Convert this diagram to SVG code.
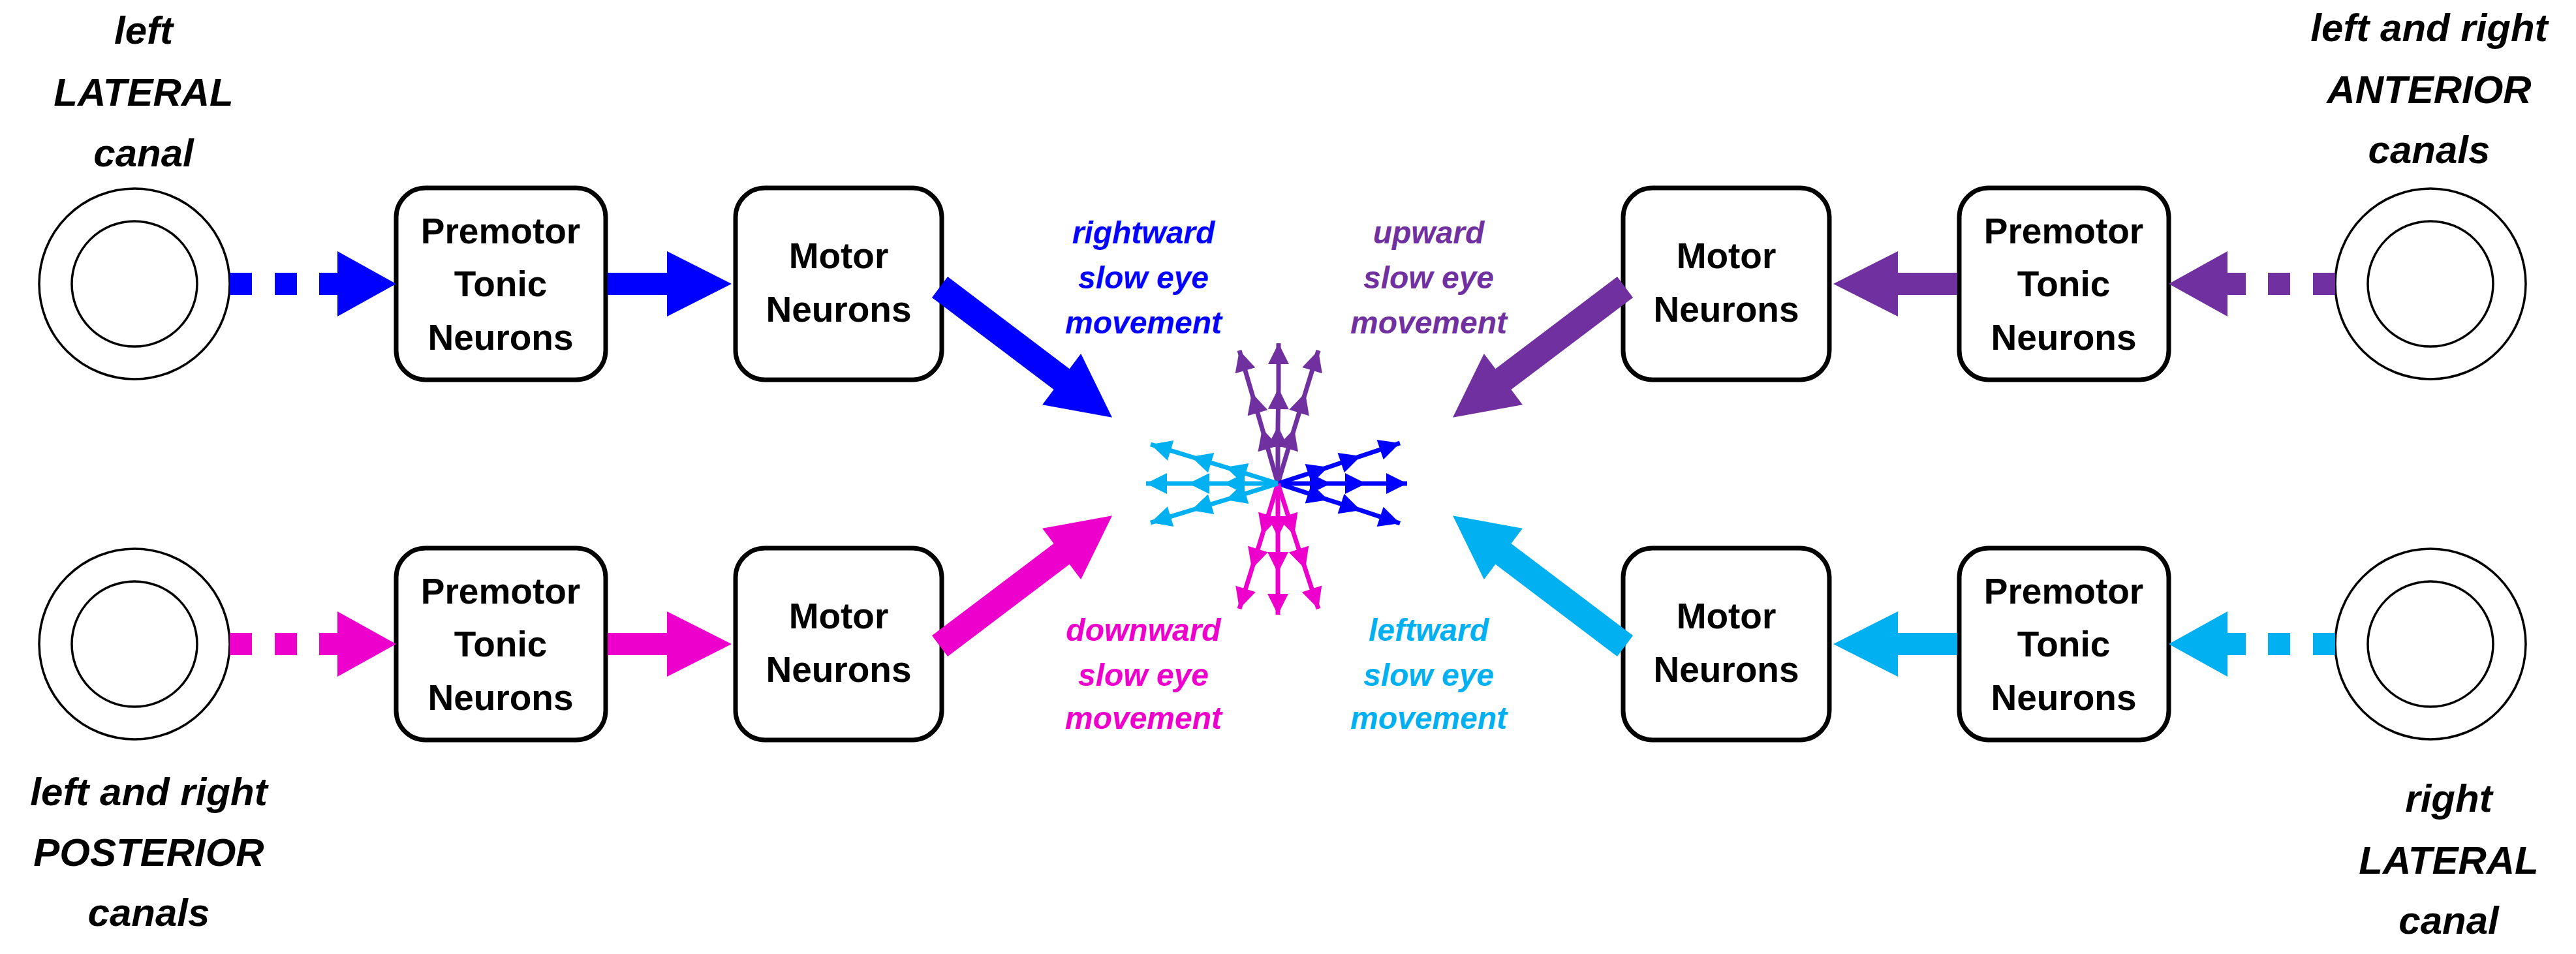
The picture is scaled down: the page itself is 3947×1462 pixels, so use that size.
<svg xmlns="http://www.w3.org/2000/svg" width="3947" height="1462" viewBox="0 0 3947 1462">
<style>
.canal{fill:none;stroke:#000;stroke-width:3.5}
.box{fill:#fff;stroke:#000;stroke-width:7}
.bt{font-family:"Liberation Sans",Arial,sans-serif;font-weight:bold;font-size:55px;text-anchor:middle;fill:#000}
.lab{font-family:"Liberation Sans",Arial,sans-serif;font-weight:bold;font-style:italic;font-size:60px;text-anchor:middle;fill:#000}
.mv{font-family:"Liberation Sans",Arial,sans-serif;font-weight:bold;font-style:italic;font-size:48px;text-anchor:middle}
.ray{fill:none;stroke-width:7}
</style>
<defs>
<marker id="hb" viewBox="0 0 10 10" refX="10" refY="5" markerUnits="userSpaceOnUse" markerWidth="38" markerHeight="32" orient="auto"><path d="M0,0 L10,5 L0,10 z" fill="#0000ff"/></marker>
<marker id="hp" viewBox="0 0 10 10" refX="10" refY="5" markerUnits="userSpaceOnUse" markerWidth="38" markerHeight="32" orient="auto"><path d="M0,0 L10,5 L0,10 z" fill="#7030a0"/></marker>
<marker id="hm" viewBox="0 0 10 10" refX="10" refY="5" markerUnits="userSpaceOnUse" markerWidth="38" markerHeight="32" orient="auto"><path d="M0,0 L10,5 L0,10 z" fill="#ee00cc"/></marker>
<marker id="hc" viewBox="0 0 10 10" refX="10" refY="5" markerUnits="userSpaceOnUse" markerWidth="38" markerHeight="32" orient="auto"><path d="M0,0 L10,5 L0,10 z" fill="#00b0f0"/></marker>
<polygon id="diag" points="0,-20 234,-20 234,-49 331,0 234,49 234,20 0,20"/>
</defs>
<rect width="3947" height="1462" fill="#fff"/>

<g id="canal-left-lateral">
<circle class="canal" cx="206" cy="435" r="146"/><circle class="canal" cx="206" cy="435" r="96"/>
<text class="lab" x="220" y="67">left</text><text class="lab" x="220" y="162">LATERAL</text><text class="lab" x="220" y="255">canal</text>
</g>
<g id="canal-posterior">
<circle class="canal" cx="206" cy="987" r="146"/><circle class="canal" cx="206" cy="987" r="96"/>
<text class="lab" x="228" y="1234">left and right</text><text class="lab" x="228" y="1327">POSTERIOR</text><text class="lab" x="228" y="1419">canals</text>
</g>
<g id="canal-anterior">
<circle class="canal" cx="3724" cy="435" r="146"/><circle class="canal" cx="3724" cy="435" r="96"/>
<text class="lab" x="3722" y="63">left and right</text><text class="lab" x="3722" y="158">ANTERIOR</text><text class="lab" x="3722" y="250">canals</text>
</g>
<g id="canal-right-lateral">
<circle class="canal" cx="3724" cy="987" r="146"/><circle class="canal" cx="3724" cy="987" r="96"/>
<text class="lab" x="3752" y="1244">right</text><text class="lab" x="3752" y="1339">LATERAL</text><text class="lab" x="3752" y="1431">canal</text>
</g>

<g id="premotor-tl"><rect class="box" x="607" y="288" width="321" height="294" rx="45"/>
<text class="bt" x="767" y="373">Premotor</text><text class="bt" x="767" y="454">Tonic</text><text class="bt" x="767" y="536">Neurons</text></g>
<g id="motor-tl"><rect class="box" x="1127" y="288" width="316" height="294" rx="45"/>
<text class="bt" x="1285" y="411">Motor</text><text class="bt" x="1285" y="493">Neurons</text></g>
<g id="premotor-bl"><rect class="box" x="607" y="840" width="321" height="294" rx="45"/>
<text class="bt" x="767" y="925">Premotor</text><text class="bt" x="767" y="1006">Tonic</text><text class="bt" x="767" y="1088">Neurons</text></g>
<g id="motor-bl"><rect class="box" x="1127" y="840" width="316" height="294" rx="45"/>
<text class="bt" x="1285" y="963">Motor</text><text class="bt" x="1285" y="1045">Neurons</text></g>
<g id="premotor-tr"><rect class="box" x="3002" y="288" width="321" height="294" rx="45"/>
<text class="bt" x="3162" y="373">Premotor</text><text class="bt" x="3162" y="454">Tonic</text><text class="bt" x="3162" y="536">Neurons</text></g>
<g id="motor-tr"><rect class="box" x="2487" y="288" width="316" height="294" rx="45"/>
<text class="bt" x="2645" y="411">Motor</text><text class="bt" x="2645" y="493">Neurons</text></g>
<g id="premotor-br"><rect class="box" x="3002" y="840" width="321" height="294" rx="45"/>
<text class="bt" x="3162" y="925">Premotor</text><text class="bt" x="3162" y="1006">Tonic</text><text class="bt" x="3162" y="1088">Neurons</text></g>
<g id="motor-br"><rect class="box" x="2487" y="840" width="316" height="294" rx="45"/>
<text class="bt" x="2645" y="963">Motor</text><text class="bt" x="2645" y="1045">Neurons</text></g>

<g id="connectors">
<g fill="#0000ff">
<rect x="352" y="418" width="34" height="34"/><rect x="421" y="418" width="34" height="34"/>
<polygon points="489,418 517,418 517,385 607,435 517,485 517,452 489,452"/>
<polygon points="931,418 1022,418 1022,385 1121,435 1022,485 1022,452 931,452"/>
<use href="#diag" transform="translate(1440,440) rotate(37.1)"/>
</g>
<g fill="#ee00cc">
<rect x="352" y="970" width="34" height="34"/><rect x="421" y="970" width="34" height="34"/>
<polygon points="489,970 517,970 517,937 607,987 517,1037 517,1004 489,1004"/>
<polygon points="931,970 1022,970 1022,937 1121,987 1022,1037 1022,1004 931,1004"/>
<use href="#diag" transform="translate(1440,990) rotate(-37.1)"/>
</g>
<g fill="#7030a0">
<rect x="3544" y="418" width="34" height="34"/><rect x="3475" y="418" width="34" height="34"/>
<polygon points="3441,418 3413,418 3413,385 3323,435 3413,485 3413,452 3441,452"/>
<polygon points="2999,418 2908,418 2908,385 2809,435 2908,485 2908,452 2999,452"/>
<use href="#diag" transform="translate(2490,440) rotate(142.9)"/>
</g>
<g fill="#00b0f0">
<rect x="3544" y="970" width="34" height="34"/><rect x="3475" y="970" width="34" height="34"/>
<polygon points="3441,970 3413,970 3413,937 3323,987 3413,1037 3413,1004 3441,1004"/>
<polygon points="2999,970 2908,970 2908,937 2809,987 2908,1037 2908,1004 2999,1004"/>
<use href="#diag" transform="translate(2490,990) rotate(-142.9)"/>
</g>
</g>

<g id="eye-movement-star">
<g class="ray" stroke="#7030a0" marker-mid="url(#hp)" marker-end="url(#hp)">
<polyline points="1958,741 1958,653 1959,595 1959,526"/>
<polyline points="1958,741 1934,657 1918,602 1899,537"/>
<polyline points="1958,741 1983,657 2000,602 2020,537"/>
</g>
<g class="ray" stroke="#0000ff" marker-mid="url(#hb)" marker-end="url(#hb)">
<polyline points="1958,741 2039,741 2093,741 2156,741"/>
<polyline points="1958,741 2035,716 2085,699 2145,679"/>
<polyline points="1958,741 2035,766 2085,782 2145,802"/>
</g>
<g class="ray" stroke="#ee00cc" marker-mid="url(#hm)" marker-end="url(#hm)">
<polyline points="1958,741 1958,823 1958,878 1958,942"/>
<polyline points="1958,741 1934,820 1918,872 1899,933"/>
<polyline points="1958,741 1983,820 2000,872 2020,933"/>
</g>
<g class="ray" stroke="#00b0f0" marker-mid="url(#hc)" marker-end="url(#hc)">
<polyline points="1958,741 1875,741 1821,741 1756,741"/>
<polyline points="1958,741 1878,716 1825,700 1763,681"/>
<polyline points="1958,741 1878,766 1825,782 1763,801"/>
</g>
</g>

<g id="labels">
<g class="mv" fill="#0000ff"><text x="1752" y="373">rightward</text><text x="1752" y="442">slow eye</text><text x="1752" y="511">movement</text></g>
<g class="mv" fill="#7030a0"><text x="2189" y="373">upward</text><text x="2189" y="442">slow eye</text><text x="2189" y="511">movement</text></g>
<g class="mv" fill="#ee00cc"><text x="1752" y="982">downward</text><text x="1752" y="1051">slow eye</text><text x="1752" y="1117">movement</text></g>
<g class="mv" fill="#00b0f0"><text x="2189" y="982">leftward</text><text x="2189" y="1051">slow eye</text><text x="2189" y="1117">movement</text></g>
</g>
</svg>
